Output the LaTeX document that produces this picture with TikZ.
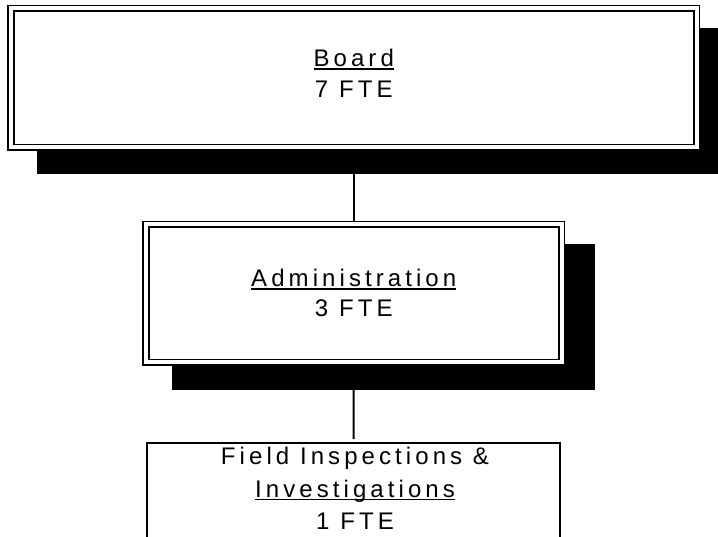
\documentclass[tikz,border=0pt]{standalone}
\usepackage{fontspec}
\setmainfont{Liberation Sans}[LetterSpace=17]
\usetikzlibrary{backgrounds}
\newcommand\myul[1]{\setbox0=\hbox{#1}\rlap{\rule[-2.8pt]{\wd0}{1.3pt}}\box0}
\begin{document}
\begin{tikzpicture}[x=1pt,y=-1pt,
  boxtext/.style={align=center, inner sep=0pt, outer sep=0pt},
  dbox/.style={draw, line width=1.8pt, double=white, double distance=4pt, fill=white, inner sep=0pt, outer sep=0pt},
  sbox/.style={draw, line width=1.5pt, fill=white, inner sep=0pt, outer sep=0pt},
  conn/.style={draw, line width=2pt},
  shadowfill/.style={fill=black}]
\useasboundingbox (0,0) rectangle (718,537);
\clip (0,0) rectangle (718,537);
\node[dbox, minimum width=685.5pt, minimum height=139pt] (board) at (353.75,78) {};
\node[dbox, minimum width=415.5pt, minimum height=138pt] (admin) at (353.75,293.5) {};
\node[sbox, minimum width=413pt, minimum height=97pt] (field) at (353.5,491.5) {};
\node[boxtext, font=\fontsize{24}{31}\selectfont] (boardtext) at (353.75,73.75) {\myul{Board}\\7 FTE};
\node[boxtext, font=\fontsize{24}{30}\selectfont] (admintext) at (353.75,293.25) {\myul{Administration}\\3 FTE};
\node[boxtext, font=\fontsize{24}{32.5}\selectfont] (fieldtext) at (355,488.75) {Field Inspections \&\\\myul{Investigations}\\1 FTE};
\begin{pgfonlayer}{background}
  \draw[conn] (board.south) -- (admin.north);
  \draw[conn, shorten >=4pt] (admin.south) -- (field.north);
  \fill[shadowfill] (37,28) rectangle (730,174);
  \fill[shadowfill] (172,244) rectangle (595,390);
\end{pgfonlayer}
\end{tikzpicture}
\end{document}
